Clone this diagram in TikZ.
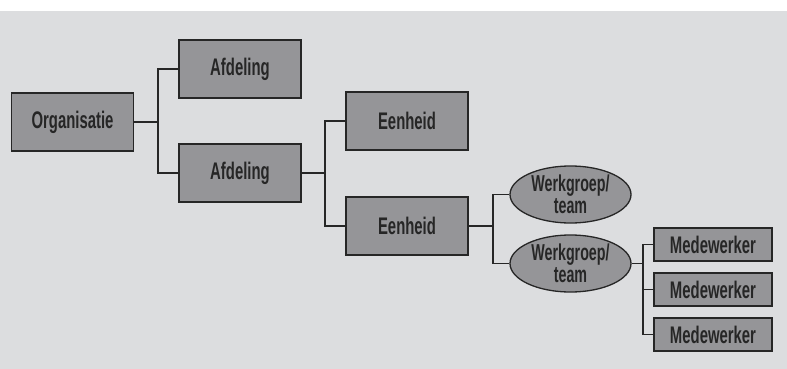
\documentclass[tikz,border=0pt]{standalone}
\usepackage{fontspec}
\usepackage{xcolor}
\usepackage{tikz}
\usetikzlibrary{shapes.geometric}
\newfontfamily\condfont[FakeStretch=0.62]{Liberation Sans}
\definecolor{achter}{HTML}{DCDDDF}
\definecolor{vak}{HTML}{959598}
\definecolor{rand}{HTML}{262626}

\begin{document}
\begin{tikzpicture}[x=1pt,y=-1pt,
    vakje/.style={draw=rand, fill=vak, line width=1.3pt, inner sep=0pt,
        minimum width=122pt, minimum height=58pt,
        font=\condfont\bfseries\fontsize{24}{21}\selectfont, text=rand},
    ovaal/.style={vakje, ellipse, minimum width=121pt, minimum height=57pt, align=center,
        font=\condfont\bfseries\fontsize{23}{22.5}\selectfont},
    klein/.style={vakje, minimum width=118pt, minimum height=33pt},
    lijn/.style={draw=rand, line width=1.1pt}]
                    \useasboundingbox (0,0) rectangle (787,369);
                    \fill[achter] (0,11) rectangle (787,369);

                    \node[vakje] (org) at (72.5,122) {Organisatie};
                    \node[vakje] (afd1) at (240,69) {Afdeling};
                    \node[vakje] (afd2) at (240,173) {Afdeling};
                    \node[vakje] (een1) at (407,121) {Eenheid};
                    \node[vakje] (een2) at (407,226) {Eenheid};
                    \node[ovaal] (wg1) at (570.5,194.5) {Werkgroep/\\team};
                    \node[ovaal] (wg2) at (570.5,263.5) {Werkgroep/\\team};
                    \foreach \i/\y in {1/244.5,2/289.5,3/334.5}
                        \node[klein] (mw\i) at (713,\y) {Medewerker};

                    \coordinate (b1) at (158,122);
                    \coordinate (b2) at (325,173);
                    \coordinate (b3) at (493,226);
                    \coordinate (b4) at (643,263.5);

                    \draw[lijn] (org.east) -- (b1);
                    \draw[lijn] (afd1.west) -| (b1) |- (afd2.west);
                    \draw[lijn] (afd2.east) -- (b2);
                    \draw[lijn] (een1.west) -| (b2) |- (een2.west);
                    \draw[lijn] (een2.east) -- (b3);
                    \draw[lijn] (wg1.west) -| (b3) |- (wg2.west);
                    \draw[lijn] (wg2.east) -- (b4);
                    \draw[lijn] (mw1.west) -| (b4) |- (mw3.west);
                    \draw[lijn] (mw2.west) -- (mw2.west -| b4);
                \end{tikzpicture}
\end{document}
